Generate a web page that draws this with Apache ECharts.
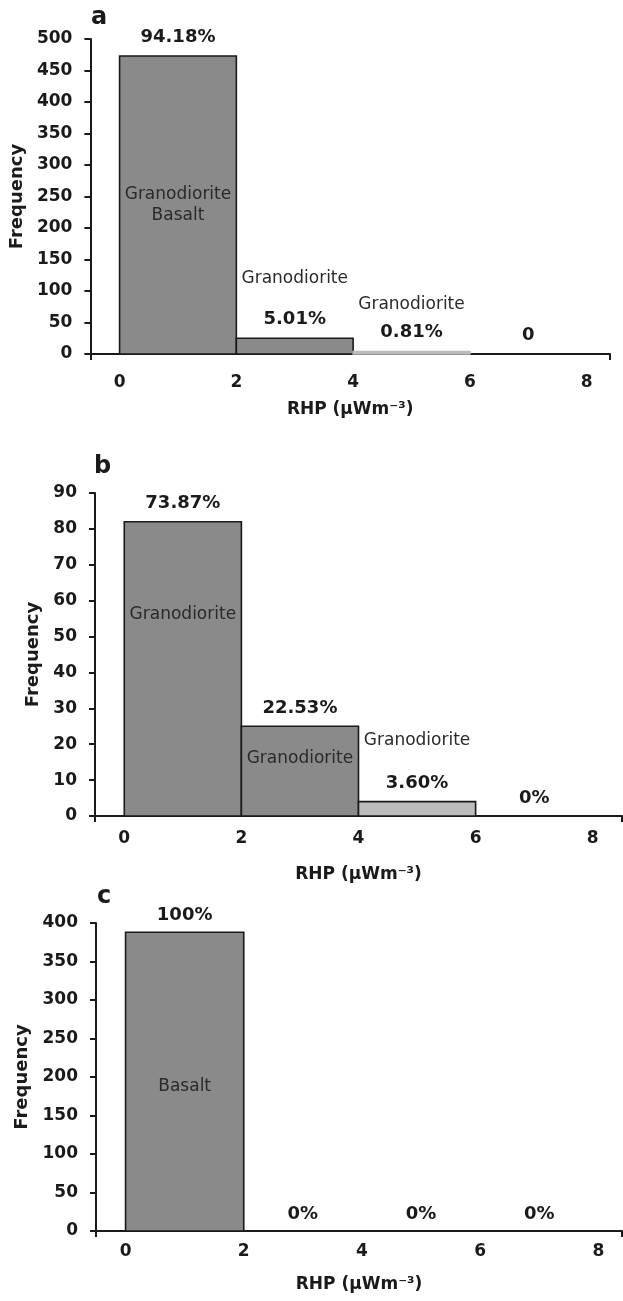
<!DOCTYPE html>
<html>
<head>
<meta charset="utf-8">
<script src="https://cdn.jsdelivr.net/npm/echarts@6/dist/echarts.min.js"></script>
<style>
html, body { margin: 0; padding: 0; background: #fff; }
#main { width: 623px; height: 1301px; }
</style>
</head>
<body>
<div id="main"></div>
<script>
// RHP bins (uWm-3) and frequencies of the three panels
var binEdges = [0, 2, 4, 6, 8];
var xTicks = [0, 2, 4, 6, 8];
var freqA = [473, 25, 4, 0];
var freqB = [82, 25, 4, 0];
var freqC = [388, 0, 0, 0];
var pctA = ['94.18%', '5.01%', '0.81%', '0'];
var pctB = ['73.87%', '22.53%', '3.60%', '0%'];
var pctC = ['100%', '0%', '0%', '0%'];
// rock type notes: [x, frequency, text]
var rocksA = [[1, 236, 'Granodiorite\nBasalt'], [3, 119, 'Granodiorite'], [5, 79, 'Granodiorite']];
var rocksB = [[1, 56, 'Granodiorite'], [3, 16, 'Granodiorite'], [5, 21, 'Granodiorite']];
var rocksC = [[1, 188, 'Basalt']];

var dark = '#8a8a8a', light = '#bcbcbc', ink = '#1a1a1a';
var fillA = [dark, dark, light, light], edgeA = [ink, ink, light, light];
var fillB = [dark, dark, light, light], edgeB = [ink, ink, ink, ink];
var fillC = [dark, dark, dark, dark], edgeC = [ink, ink, ink, ink];

var FONT = '"DejaVu Sans", sans-serif';

function bins(freq) {
  return freq.map(function (v, i) { return [binEdges[i], binEdges[i + 1], v]; });
}

function barItem(pct, fills, edges, off) {
  return function (params, api) {
    var i = params.dataIndex;
    var p0 = api.coord([api.value(0), 0]);
    var p1 = api.coord([api.value(1), api.value(2)]);
    var kids = [];
    if (api.value(2) > 0) {
      kids.push({
        type: 'rect',
        shape: { x: p0[0], y: p1[1], width: p1[0] - p0[0], height: p0[1] - p1[1] },
        style: { fill: fills[i], stroke: edges[i], lineWidth: 1.6 }
      });
    }
    kids.push({
      type: 'text',
      style: {
        text: pct[i], x: (p0[0] + p1[0]) / 2, y: p1[1] - off,
        align: 'center', verticalAlign: 'middle',
        font: 'bold 18px ' + FONT, fill: ink
      }
    });
    return { type: 'group', children: kids };
  };
}

function noteItem(notes) {
  return function (params, api) {
    var p = api.coord([api.value(0), api.value(1)]);
    return {
      type: 'text',
      style: {
        text: notes[params.dataIndex][2], x: p[0], y: p[1],
        align: 'center', verticalAlign: 'middle',
        font: '17px ' + FONT, fill: '#2a2a2a', lineHeight: 21
      }
    };
  };
}

function xAxisFor(gi, maxV, labelGap, nameGap) {
  return {
    gridIndex: gi, type: 'value', min: -0.5, max: maxV,
    axisLine: { show: true, onZero: false, lineStyle: { color: ink, width: 2 } },
    axisTick: { show: true, customValues: [-0.5, maxV], length: 6, lineStyle: { color: ink, width: 2 } },
    axisLabel: { customValues: xTicks, margin: labelGap, color: ink, fontFamily: FONT, fontWeight: 'bold', fontSize: 17 },
    splitLine: { show: false },
    name: 'RHP (\u03bcWm\u207b\u00b3)', nameLocation: 'middle', nameGap: nameGap,
    nameTextStyle: { color: ink, fontFamily: FONT, fontWeight: 'bold', fontSize: 17 }
  };
}

function yAxisFor(gi, maxV, step, nameGap) {
  return {
    gridIndex: gi, type: 'value', min: 0, max: maxV, interval: step,
    axisLine: { show: true, onZero: false, lineStyle: { color: ink, width: 2 } },
    axisTick: { show: true, length: 6, lineStyle: { color: ink, width: 2 } },
    axisLabel: { margin: 18, color: ink, fontFamily: FONT, fontWeight: 'bold', fontSize: 17 },
    splitLine: { show: false },
    name: 'Frequency', nameLocation: 'middle', nameGap: nameGap, nameRotate: 90,
    nameTextStyle: { color: ink, fontFamily: FONT, fontWeight: 'bold', fontSize: 18 }
  };
}

function panelTag(t, x, y) {
  return {
    type: 'text', left: x, top: y,
    style: { text: t, font: 'bold 24px ' + FONT, fill: ink }
  };
}

var chart = echarts.init(document.getElementById('main'), null, { renderer: 'canvas' });
chart.setOption({
  backgroundColor: '#fff',
  animation: false,
  grid: [
    { left: 90, right: 13, top: 39, bottom: 947 },
    { left: 95, right: 1, top: 493, bottom: 485 },
    { left: 96, right: 1, top: 923, bottom: 70 }
  ],
  xAxis: [xAxisFor(0, 8.4, 20, 47), xAxisFor(1, 8.5, 14, 50), xAxisFor(2, 8.4, 12, 45)],
  yAxis: [yAxisFor(0, 500, 50, 63), yAxisFor(1, 90, 10, 52), yAxisFor(2, 400, 50, 57)],
  graphic: [panelTag('a', 91, 6), panelTag('b', 94, 455), panelTag('c', 97, 885)],
  series: [
    { type: 'custom', xAxisIndex: 0, yAxisIndex: 0, data: bins(freqA), encode: { x: [0, 1], y: 2 }, renderItem: barItem(pctA, fillA, edgeA, 19) },
    { type: 'custom', xAxisIndex: 1, yAxisIndex: 1, data: bins(freqB), encode: { x: [0, 1], y: 2 }, renderItem: barItem(pctB, fillB, edgeB, 18) },
    { type: 'custom', xAxisIndex: 2, yAxisIndex: 2, data: bins(freqC), encode: { x: [0, 1], y: 2 }, renderItem: barItem(pctC, fillC, edgeC, 17) },
    { type: 'custom', xAxisIndex: 0, yAxisIndex: 0, data: rocksA.map(function (r) { return [r[0], r[1]]; }), renderItem: noteItem(rocksA) },
    { type: 'custom', xAxisIndex: 1, yAxisIndex: 1, data: rocksB.map(function (r) { return [r[0], r[1]]; }), renderItem: noteItem(rocksB) },
    { type: 'custom', xAxisIndex: 2, yAxisIndex: 2, data: rocksC.map(function (r) { return [r[0], r[1]]; }), renderItem: noteItem(rocksC) }
  ]
});
</script>
</body>
</html>
